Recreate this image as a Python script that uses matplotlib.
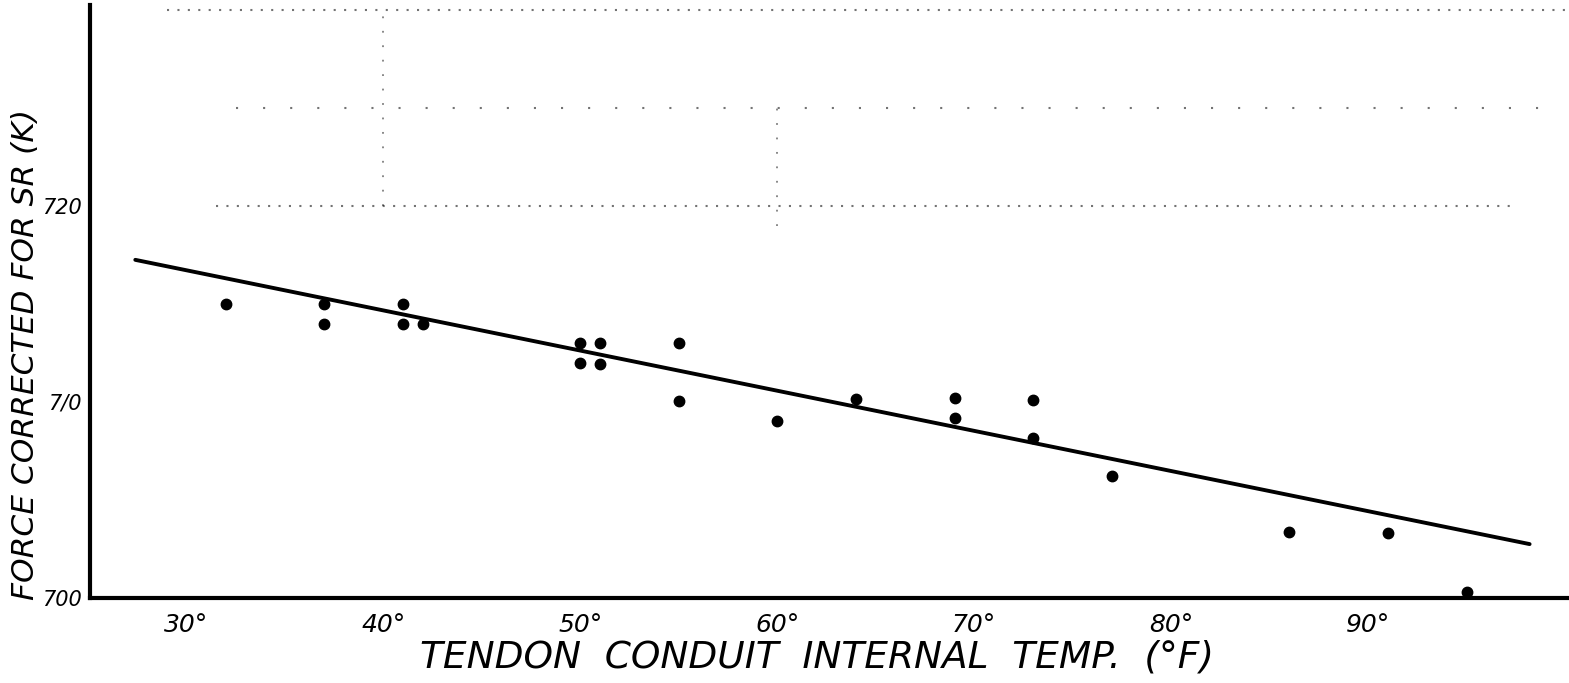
import numpy as np
import matplotlib
matplotlib.use('Agg')
import matplotlib.pyplot as plt

# temperature readings (deg F) and corrected tendon force (kips)
temp = [32, 37, 37, 41, 41, 42, 50, 51, 50, 51, 55, 55, 60, 64, 69, 69, 73, 73, 77, 86, 91, 95]
force = [715.0, 715.0, 714.0, 715.0, 714.0, 714.0, 713.0, 713.0, 712.0, 711.95, 713.0, 710.05,
         709.05, 710.15, 710.2, 709.2, 710.1, 708.15, 706.2, 703.35, 703.3, 700.3]

# hand fitted trend line end points
fit_temp = [27.4, 98.2]
fit_force = [717.25, 702.75]

xticks = [30, 40, 50, 60, 70, 80, 90]
xtick_labels = ['30°', '40°', '50°', '60°', '70°', '80°', '90°']
yticks = [700, 710, 720]
ytick_labels = ['700', '7/0', '720']

plt.rcParams['font.family'] = ['DejaVu Sans']
plt.rcParams['font.style'] = 'oblique'

fig = plt.figure(figsize=(15.69, 6.83), dpi=100)
ax = fig.add_axes([90/1569, 85/683, 1479/1569, 593/683])

# faint graph paper rulings left on the sheet
for gy, x0, x1, gap in [(720, 31.5, 97.5, 4), (730, 29.0, 100.2, 4), (725, 32.5, 99.0, 12)]:
    ax.plot([x0, x1], [gy, gy], color='black', lw=1.5, ls=(0, (1, gap)), alpha=0.55)
for gx, y0, y1 in [(40, 720, 730), (60, 719, 725)]:
    ax.plot([gx, gx], [y0, y1], color='black', lw=1.3, ls=(0, (1, 7)), alpha=0.5)

ax.plot(fit_temp, fit_force, color='black', lw=2.8, solid_capstyle='round')
ax.plot(temp, force, 'o', color='black', ms=7.5)

ax.set_xlim(25.1, 100.2)
ax.set_ylim(700, 730.25)

ax.spines['top'].set_visible(False)
ax.spines['right'].set_visible(False)
ax.spines['left'].set_linewidth(3)
ax.spines['bottom'].set_linewidth(3)

ax.set_xticks(xticks)
ax.set_xticklabels(xtick_labels, fontsize=18)
ax.set_yticks(yticks)
ax.set_yticklabels(ytick_labels, fontsize=15)
ax.tick_params(axis='x', length=0, pad=11)
ax.tick_params(axis='y', length=0, pad=6)

ax.set_xlabel('TENDON  CONDUIT  INTERNAL  TEMP.  (°F)', fontsize=27)
ax.xaxis.set_label_coords(0.4916, -0.07)
ax.set_ylabel('FORCE CORRECTED FOR SR (K)', fontsize=22.5)
ax.yaxis.set_label_coords(-0.0335, 0.41)

plt.savefig('out.png', dpi=100)
